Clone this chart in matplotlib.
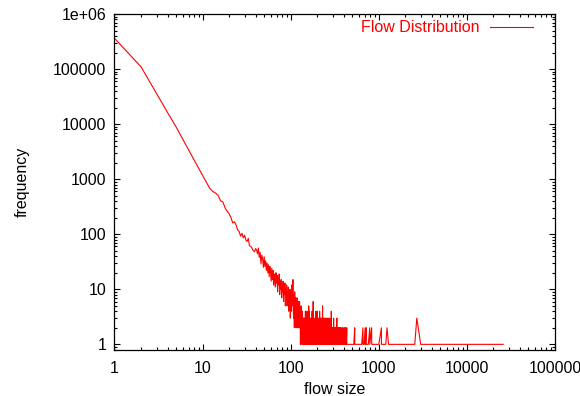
import matplotlib
matplotlib.use("Agg")
import matplotlib.pyplot as plt
from matplotlib.ticker import FixedLocator, LogLocator, NullFormatter

plt.rcParams["font.family"] = ["Liberation Sans", "DejaVu Sans"]
plt.rcParams["font.size"] = 11.5

# flow sizes 1..140 have a count each
head_sizes = list(range(1, 141))
head_counts = [
    362000, 110000, 36000, 16300, 8900, 5200, 3320, 2240, 1590, 1160,
    880, 690, 600, 560, 510, 405, 385, 300, 262, 235,
    200, 160, 168, 147, 120, 112, 92, 104, 86, 96,
    78, 74, 84, 62, 60, 58, 52, 50, 48, 55,
    52, 44, 56, 38, 47, 29, 42, 36, 25, 39,
    26, 33, 22, 30, 20, 28, 17, 26, 21, 14,
    24, 15, 22, 12, 19, 16, 11, 20, 13, 18,
    9, 16, 12, 19, 8, 14, 10, 15, 7, 12,
    9, 14, 6, 11, 8, 13, 5, 10, 7, 12,
    5, 9, 6, 11, 4, 8, 6, 10, 3, 7,
    9, 4, 12, 5, 8, 15, 4, 3, 8, 2,
    9, 5, 3, 7, 2, 6, 3, 7, 2, 5,
    3, 6, 2, 4, 3, 6, 2, 4, 1, 3,
    5, 2, 3, 1, 4, 2, 3, 1, 2, 3,
]

# 141..300, still one count per size
mid_sizes = list(range(141, 301))
mid_counts = [
    1, 3, 2, 1, 3, 2, 4, 1, 2, 3, 1, 2, 4, 1, 2, 3, 1, 2, 1, 5,
    2, 4, 1, 2, 1, 3, 1, 2, 1, 2, 3, 1, 2, 1, 4, 1, 2, 1, 3, 6,
    1, 2, 1, 3, 1, 2, 1, 2, 3, 1, 2, 1, 4, 1, 2, 1, 3, 1, 2, 4,
    2, 3, 1, 2, 1, 1, 3, 1, 2, 1, 2, 1, 4, 1, 2, 1, 3, 1, 2, 1,
    1, 2, 1, 3, 1, 2, 1, 1, 2, 5, 1, 2, 1, 3, 1, 1, 2, 1, 2, 1,
    3, 1, 1, 2, 1, 2, 1, 1, 3, 1, 2, 1, 1, 2, 1, 2, 1, 3, 1, 1,
    2, 1, 1, 2, 1, 3, 1, 1, 2, 1, 1, 2, 1, 1, 2, 1, 3, 1, 1, 2,
    1, 1, 2, 1, 1, 2, 1, 1, 4, 1, 1, 2, 1, 1, 2, 1, 1, 2, 1, 1,
]

# sparse tail, only sizes that were seen
tail_sizes = [
    301, 303, 304, 306, 307, 309, 311, 312, 315, 316, 318, 321, 322, 325,
    327, 328, 331, 334, 335, 338, 340, 341, 345, 348, 349, 352, 355, 356,
    360, 363, 364, 368, 372, 373, 377, 381, 384, 385, 390, 394, 395, 400,
    405, 409, 410, 415, 420, 421, 427, 433, 434, 440, 447, 455, 462, 470,
    480, 492, 505, 520, 533, 534, 560, 600, 640, 660, 661, 680, 700, 701,
    720, 721, 760, 790, 791, 830, 831, 860, 900, 950, 1000, 1070, 1071,
    1150, 1200, 1240, 1290, 1500, 2000, 2560, 2700, 2990, 5000, 10000, 25800,
]
tail_counts = [
    1, 2, 1, 1, 3, 1, 2, 1, 1, 2, 1, 2, 1, 1,
    2, 1, 1, 3, 1, 1, 2, 1, 1, 2, 1, 1, 2, 1,
    1, 2, 1, 1, 2, 1, 1, 1, 2, 1, 1, 2, 1, 1,
    1, 2, 1, 1, 2, 1, 1, 2, 1, 1, 1, 1, 1, 1,
    1, 1, 1, 1, 2, 1, 1, 1, 1, 2, 1, 1, 2, 1,
    2, 1, 1, 2, 1, 2, 1, 1, 1, 1, 1, 2, 1,
    1, 1, 2, 1, 1, 1, 1, 3, 1, 1, 1, 1,
]

y_ticks = [1, 10, 100, 1000, 10000, 100000, 1000000]
y_labels = ["1", "10", "100", "1000", "10000", "100000", "1e+06"]
x_ticks = [1, 10, 100, 1000, 10000, 100000]
x_labels = ["1", "10", "100", "1000", "10000", "100000"]

sizes = head_sizes + mid_sizes + tail_sizes
counts = head_counts + mid_counts + tail_counts

fig = plt.figure(figsize=(5.8, 3.96), dpi=100)
ax = fig.add_axes([0.1974, 0.1162, 0.7595, 0.8484])

ax.plot(sizes, counts, color="#ff0000", linewidth=0.8)

ax.set_xscale("log")
ax.set_yscale("log")
ax.set_xlim(1, 100000)
ax.set_ylim(0.79, 1000000)

ax.xaxis.set_major_locator(FixedLocator(x_ticks))
ax.xaxis.set_ticklabels(x_labels)
ax.yaxis.set_major_locator(FixedLocator(y_ticks))
ax.yaxis.set_ticklabels(y_labels)
ax.xaxis.set_minor_locator(LogLocator(base=10, subs=range(2, 10)))
ax.yaxis.set_minor_locator(LogLocator(base=10, subs=range(2, 10)))
ax.xaxis.set_minor_formatter(NullFormatter())
ax.yaxis.set_minor_formatter(NullFormatter())

ax.tick_params(which="both", direction="in", top=True, right=True, width=0.8)
ax.tick_params(which="major", length=4.5)
ax.tick_params(which="minor", length=2.5)
ax.tick_params(axis="x", pad=8)
ax.tick_params(axis="y", pad=6)
for s in ax.spines.values():
    s.set_linewidth(0.9)

ax.set_xlabel("flow size", labelpad=4)
ax.set_ylabel("frequency", labelpad=17)

# gnuplot style key: text then line sample
ax.text(0.8275, 0.961, "Flow Distribution", color="#ff0000",
        ha="right", va="center", transform=ax.transAxes)
ax.plot([0.852, 0.950], [0.961, 0.961], color="#ff0000", linewidth=0.8,
        transform=ax.transAxes)

fig.savefig("out.png", dpi=100)
